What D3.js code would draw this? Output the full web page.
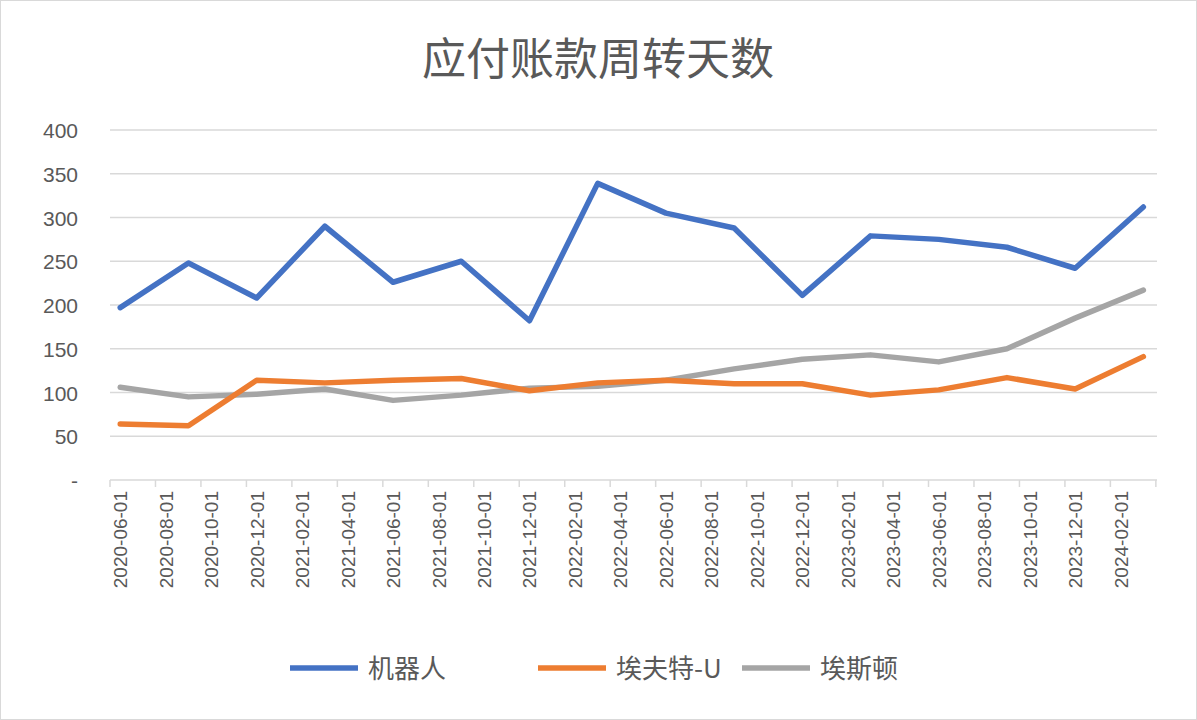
<!DOCTYPE html><html><head><meta charset="utf-8"><script src="https://cdn.jsdelivr.net/npm/d3@7"></script>
<style>body{margin:0;background:#fff}svg{font-family:"Noto Sans CJK SC","Noto Sans",sans-serif}</style></head><body><svg id="c" width="1197" height="720"></svg><script>
const quarters=["2020-06","2020-09","2020-12","2021-03","2021-06","2021-09","2021-12","2022-03","2022-06","2022-09","2022-12","2023-03","2023-06","2023-09","2023-12","2024-03"];
const robot=[197,248,208,290,226,250,182,339,305,288,211,279,275,266,242,312];
const eft=[64,62,114,111,114,116,102,111,114,110,110,97,103,117,104,141];
const aston=[106,95,98,104,91,97,105,107,114,127,138,143,135,150,185,217];
const tickLabels=["2020-06-01","2020-08-01","2020-10-01","2020-12-01","2021-02-01","2021-04-01","2021-06-01","2021-08-01","2021-10-01","2021-12-01","2022-02-01","2022-04-01","2022-06-01","2022-08-01","2022-10-01","2022-12-01","2023-02-01","2023-04-01","2023-06-01","2023-08-01","2023-10-01","2023-12-01","2024-02-01"];
const yTicks=[0,50,100,150,200,250,300,350,400];
const series=[{name:"机器人",v:robot,c:"#4472C4"},{name:"埃夫特-U",v:eft,c:"#ED7D31"},{name:"埃斯顿",v:aston,c:"#A5A5A5"}];
const mi=s=>{const[y,m]=s.split("-").map(Number);return (y-2020)*12+(m-6);};
const svg=d3.select("#c");
svg.append("rect").attr("x",0.5).attr("y",0.5).attr("width",1196).attr("height",719).attr("fill","#fff").attr("stroke","#d9d9d9");
const x=d3.scaleLinear().domain([-0.45,45.6]).range([110,1157]);
const y=d3.scaleLinear().domain([0,400]).range([480,130]);
svg.append("text").attr("x",598).attr("y",75).attr("text-anchor","middle").attr("font-size",44).attr("fill","#595959").text("应付账款周转天数");
yTicks.forEach(t=>{if(t>0)svg.append("line").attr("x1",110).attr("x2",1157).attr("y1",y(t)).attr("y2",y(t)).attr("stroke","#d9d9d9").attr("stroke-width",1.5);
svg.append("text").attr("x",78).attr("y",y(t)+8).attr("text-anchor","end").attr("font-size",21).attr("fill","#595959").attr("font-family","Liberation Sans, sans-serif").text(t===0?"-":t);});
svg.append("line").attr("x1",110).attr("x2",1157).attr("y1",480).attr("y2",480).attr("stroke","#d9d9d9").attr("stroke-width",1.5);
for(let k=0;k<=23;k++){const px=x(-0.45+2*k);if(px<=1158)svg.append("line").attr("x1",px).attr("x2",px).attr("y1",480).attr("y2",487).attr("stroke","#d9d9d9").attr("stroke-width",1.5);}
tickLabels.forEach(l=>{const px=x(mi(l));svg.append("text").attr("transform",`translate(${px+7},491) rotate(-90)`).attr("text-anchor","end").attr("font-size",19).attr("fill","#595959").attr("font-family","Liberation Sans, sans-serif").text(l);});
const line=d3.line().x((d,i)=>x(mi(quarters[i]))).y(d=>y(d));
[2,1,0].forEach(i=>{const s=series[i];svg.append("path").attr("d",line(s.v)).attr("fill","none").attr("stroke",s.c).attr("stroke-width",5.5).attr("stroke-linejoin","round").attr("stroke-linecap","round");});
const lx=[290,538,742];
series.forEach((s,i)=>{svg.append("line").attr("x1",lx[i]).attr("x2",lx[i]+68).attr("y1",668).attr("y2",668).attr("stroke",s.c).attr("stroke-width",5.5);
svg.append("text").attr("x",lx[i]+78).attr("y",678).attr("font-size",26).attr("fill","#595959").text(s.name);});
</script></body></html>
